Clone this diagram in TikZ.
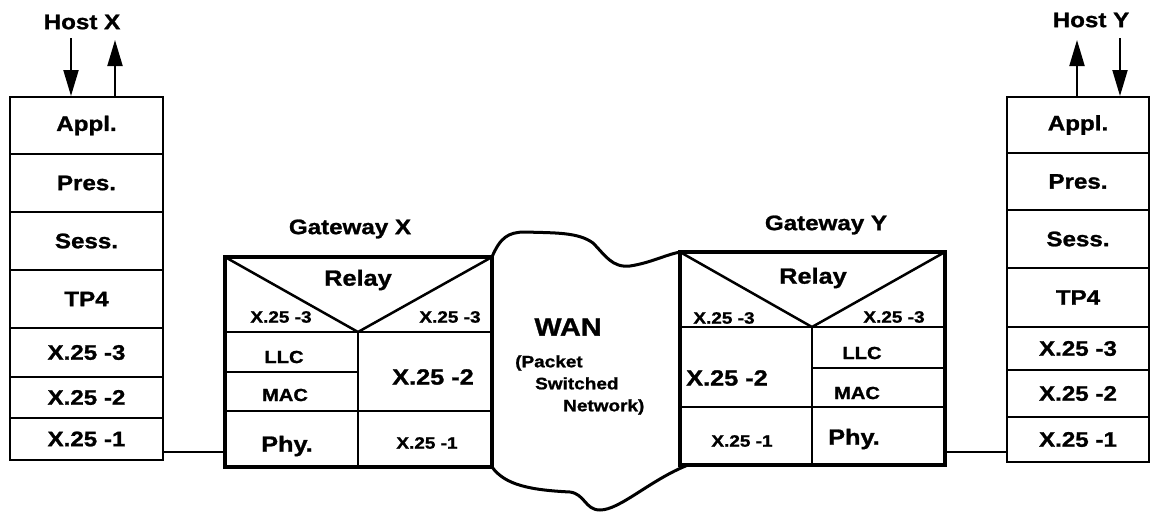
\documentclass[tikz,border=0pt]{standalone}
\usepackage{fontspec}
\setmainfont{Liberation Sans}[FakeStretch=1.15, BoldFeatures={FakeBold=1.2}]
\usepackage{tikz}
\usetikzlibrary{arrows.meta}

\begin{document}
\begin{tikzpicture}[x=1pt, y=-1pt,
  layer/.style={draw, line width=2pt, inner sep=0pt,
    font=\fontsize{21}{24}\selectfont\bfseries},
  hostlabel/.style={font=\fontsize{21}{24}\selectfont\bfseries},
  gateway/.style={draw, line width=3.5pt, inner sep=0pt, outer sep=0pt},
  inner/.style={line width=2.5pt},
  biglabel/.style={inner sep=0pt, font=\fontsize{22}{24}\selectfont\bfseries},
  smalllabel/.style={inner sep=0pt, font=\fontsize{16.5}{18}\selectfont\bfseries},
  maclabel/.style={inner sep=0pt, font=\fontsize{17.5}{20}\selectfont\bfseries},
  cloud/.style={line width=3pt},
  link/.style={line width=2pt},
  flow/.style={line width=2pt, -{Triangle[length=26pt, width=15pt]}}
]
\useasboundingbox (0,0) rectangle (1152,512);

% Host X stack
\node[hostlabel] (hxname) at (82,22) {Host X};
\node[layer, minimum width=153pt, minimum height=57pt] (hxa) at (86.5,125.5) {Appl.};
\node[layer, minimum width=153pt, minimum height=58pt] (hxp) at (86.5,183) {Pres.};
\node[layer, minimum width=153pt, minimum height=58pt] (hxs) at (86.5,241) {Sess.};
\node[layer, minimum width=153pt, minimum height=58pt] (hxt) at (86.5,299) {TP4};
\node[layer, minimum width=153pt, minimum height=49pt] (hx3) at (86.5,352.5) {X.25 -3};
\node[layer, minimum width=153pt, minimum height=41pt] (hx2) at (86.5,397.5) {X.25 -2};
\node[layer, minimum width=153pt, minimum height=42pt] (hx1) at (86.5,439) {X.25 -1};
\coordinate (hxin) at (71,38);
\coordinate (hxout) at (115,40);
\draw[flow] (hxin) -- (hxin |- hxa.north);
\draw[flow] (hxout |- hxa.north) -- (hxout);

% Host Y stack
\node[hostlabel] (hyname) at (1091,20) {Host Y};
\node[layer, minimum width=142pt, minimum height=56pt] (hya) at (1078,125) {Appl.};
\node[layer, minimum width=142pt, minimum height=57pt] (hyp) at (1078,181.5) {Pres.};
\node[layer, minimum width=142pt, minimum height=58pt] (hys) at (1078,239) {Sess.};
\node[layer, minimum width=142pt, minimum height=59pt] (hyt) at (1078,297.5) {TP4};
\node[layer, minimum width=142pt, minimum height=43pt] (hy3) at (1078,348.5) {X.25 -3};
\node[layer, minimum width=142pt, minimum height=47pt] (hy2) at (1078,393.5) {X.25 -2};
\node[layer, minimum width=142pt, minimum height=45pt] (hy1) at (1078,439.5) {X.25 -1};
\coordinate (hyout) at (1077,40);
\coordinate (hyin) at (1120,38);
\draw[flow] (hyout |- hya.north) -- (hyout);
\draw[flow] (hyin) -- (hyin |- hya.north);

% Gateway X
\node[hostlabel] (gwxname) at (350,229) {Gateway X};
\node[gateway, minimum width=267pt, minimum height=210pt] (gwx) at (358.5,362) {};
\coordinate (vx) at (358,332);
\coordinate (gxmid) at (358,372);
\coordinate (gxlow) at (358,411);
\draw[inner] (gwx.north west) -- (vx) -- (gwx.north east);
\draw[inner] (gwx.west |- vx) -- (gwx.east |- vx);
\draw[inner] (vx) -- (vx |- gwx.south);
\draw[inner] (gwx.west |- gxmid) -- (gxmid);
\draw[inner] (gwx.west |- gxlow) -- (gwx.east |- gxlow);
\node[biglabel] (gxrelay) at (358,280) {Relay};
\node[smalllabel] (gxl3) at (281,317) {X.25 -3};
\node[smalllabel] (gxr3) at (450,317) {X.25 -3};
\node[maclabel] (gxllc) at (284,357) {LLC};
\node[maclabel] (gxmac) at (285,395) {MAC};
\node[biglabel] (gxphy) at (287,446) {Phy.};
\node[biglabel] (gxr2) at (433,377) {X.25 -2};
\node[smalllabel] (gxr1) at (427,443) {X.25 -1};

% Gateway Y
\node[hostlabel] (gwyname) at (826,225) {Gateway Y};
\node[gateway, minimum width=265pt, minimum height=213pt] (gwy) at (812.5,358.5) {};
\coordinate (vy) at (812,327);
\coordinate (gymid) at (812,368);
\coordinate (gylow) at (812,407);
\draw[inner] (gwy.north west) -- (vy) -- (gwy.north east);
\draw[inner] (gwy.west |- vy) -- (gwy.east |- vy);
\draw[inner] (vy) -- (vy |- gwy.south);
\draw[inner] (gymid) -- (gwy.east |- gymid);
\draw[inner] (gwy.west |- gylow) -- (gwy.east |- gylow);
\node[biglabel] (gyrelay) at (813,278) {Relay};
\node[smalllabel] (gyl3) at (724,318) {X.25 -3};
\node[smalllabel] (gyr3) at (894,317) {X.25 -3};
\node[biglabel] (gyl2) at (727,378) {X.25 -2};
\node[smalllabel] (gyl1) at (742,441) {X.25 -1};
\node[maclabel] (gyllc) at (862,353) {LLC};
\node[maclabel] (gymac) at (857,393) {MAC};
\node[biglabel] (gyphy) at (854,439) {Phy.};

% WAN cloud
\draw[cloud] (gwx.north east) .. controls (500,238) and (508,232) .. (525,232)
  .. controls (555,233) and (578,232) .. (593,243)
  .. controls (605,255) and (612,268) .. (630,266)
  .. controls (650,263) and (665,255) .. (gwy.north west);
\draw[cloud] (gwx.south east) .. controls (505,485) and (530,490) .. (570,492)
  .. controls (585,494) and (585,510) .. (600,510)
  .. controls (620,510) and (650,480) .. (688,465);
\node[inner sep=0pt, font=\fontsize{25}{28}\selectfont\bfseries] (wan) at (568,327) {WAN};
\node[smalllabel, anchor=west, align=left, font=\fontsize{16.5}{22}\selectfont\bfseries]
  (wannote) at (515,385) {(Packet\\\hspace*{20pt}Switched\\\hspace*{48pt}Network)};

% links
\coordinate (lx) at (190,452);
\coordinate (ly) at (975,452);
\draw[link] (hx1.east |- lx) -- (gwx.west |- lx);
\draw[link] (gwy.east |- ly) -- (hy1.west |- ly);
\end{tikzpicture}
\end{document}
